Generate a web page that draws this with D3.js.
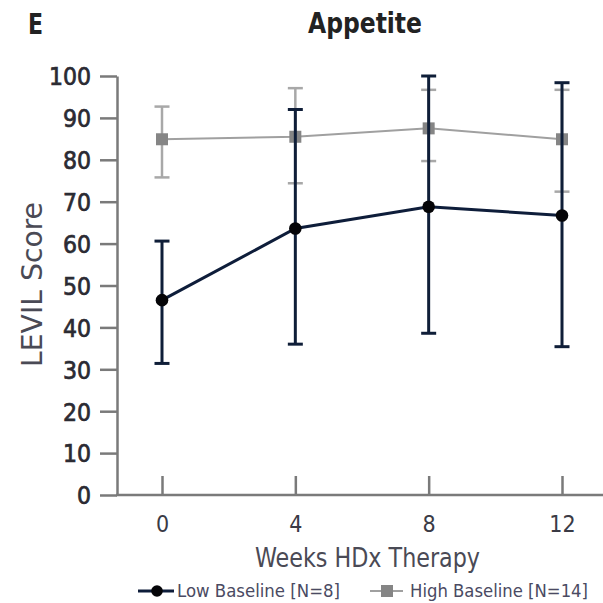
<!DOCTYPE html>
<html><head><meta charset="utf-8">
<script src="https://cdn.jsdelivr.net/npm/d3@7"></script>
<style>body{margin:0;background:#fff}svg{display:block}text{font-family:"DejaVu Sans Condensed","DejaVu Sans",sans-serif}</style>
</head><body><svg id="c" width="603" height="603"></svg>
<script>
const weeks = [0, 4, 8, 12];
const yTicks = [0,10,20,30,40,50,60,70,80,90,100];
const lowMean = [46.5, 63.6, 68.8, 66.7];
const lowUpper = [60.6, 92.0, 100, 98.4];
const lowLower = [31.4, 36.0, 38.6, 35.4];
const highMean = [84.9, 85.5, 87.5, 84.9];
const highUpper = [92.7, 97.1, 96.7, 96.7];
const highLower = [75.8, 74.4, 79.7, 72.4];
const seriesNames = ["Low Baseline [N=8]", "High Baseline [N=14]"];

const svg = d3.select("#c");
const x = d3.scaleLinear().domain([0, 12]).range([162, 562]);
const y = d3.scaleLinear().domain([0, 100]).range([495, 76]);
const axisColor = "#7a7a7a", textColor = "#2b2b33";

// y axis
const gy = svg.append("g").attr("transform", "translate(117,0)")
  .call(d3.axisLeft(y).tickValues(yTicks).tickSize(17).tickPadding(9).tickSizeOuter(0));
gy.select(".domain").attr("stroke", axisColor).attr("stroke-width", 2.5);
gy.selectAll(".tick line").attr("stroke", axisColor).attr("stroke-width", 2.5);
gy.selectAll(".tick text").attr("fill", textColor).attr("stroke", textColor).attr("stroke-width", 0.7)
  .attr("font-size", 24.5).attr("dy", "0.36em");

// x axis
const gx = svg.append("g").attr("transform", "translate(0,495)")
  .call(d3.axisBottom(x).tickValues(weeks).tickSize(-19).tickPadding(20).tickSizeOuter(0));
gx.select(".domain").attr("d", "M116,0H603").attr("stroke", axisColor).attr("stroke-width", 2.5);
gx.selectAll(".tick line").attr("stroke", axisColor).attr("stroke-width", 2.5);
gx.selectAll(".tick text").attr("fill", "#3a3a45").attr("font-size", 23).attr("dy", "0.72em");

// titles
svg.append("text").attr("x", 28).attr("y", 34).attr("font-size", 29).attr("font-weight", "bold")
  .attr("textLength", 15).attr("lengthAdjust", "spacingAndGlyphs").attr("fill", "#222").text("E");
svg.append("text").attr("x", 308).attr("y", 33).attr("font-size", 28).attr("font-weight", "bold")
  .attr("textLength", 114).attr("lengthAdjust", "spacingAndGlyphs").attr("fill", "#222").text("Appetite");
svg.append("text").attr("x", 255).attr("y", 567).attr("font-size", 26)
  .attr("textLength", 225).attr("lengthAdjust", "spacingAndGlyphs").attr("fill", "#4a4a55").text("Weeks HDx Therapy");
svg.append("text").attr("transform", "translate(42,367) rotate(-90)").attr("font-size", 28)
  .attr("textLength", 165).attr("lengthAdjust", "spacingAndGlyphs").attr("fill", "#4a4a55").text("LEVIL Score");

function drawSeries(mean, up, lo, lineColor, barColor, lw, bw, marker, markColor) {
  const g = svg.append("g");
  weeks.forEach((w, i) => {
    g.append("line").attr("x1", x(w)).attr("x2", x(w)).attr("y1", y(up[i])).attr("y2", y(lo[i]))
      .attr("stroke", barColor).attr("stroke-width", bw);
    [up[i], lo[i]].forEach(v => g.append("line").attr("x1", x(w) - 7.5).attr("x2", x(w) + 7.5)
      .attr("y1", y(v)).attr("y2", y(v)).attr("stroke", barColor).attr("stroke-width", bw));
  });
  g.append("path").datum(mean.map((m, i) => [weeks[i], m]))
    .attr("d", d3.line().x(d => x(d[0])).y(d => y(d[1])))
    .attr("fill", "none").attr("stroke", lineColor).attr("stroke-width", lw);
  weeks.forEach((w, i) => {
    if (marker === "circle") g.append("circle").attr("cx", x(w)).attr("cy", y(mean[i])).attr("r", 6.3).attr("fill", markColor);
    else g.append("rect").attr("x", x(w) - 6).attr("y", y(mean[i]) - 6).attr("width", 12).attr("height", 12).attr("fill", markColor);
  });
}
drawSeries(highMean, highUpper, highLower, "#a0a0a0", "#a8a8a8", 2, 2.5, "square", "#858585");
drawSeries(lowMean, lowUpper, lowLower, "#0e1d3a", "#0f1e38", 3, 3, "circle", "#050508");

// legend
const lg = svg.append("g");
lg.append("line").attr("x1", 138).attr("x2", 174).attr("y1", 591).attr("y2", 591).attr("stroke", "#0e1d3a").attr("stroke-width", 3);
lg.append("circle").attr("cx", 157).attr("cy", 591).attr("r", 5.8).attr("fill", "#050508");
lg.append("text").attr("x", 177).attr("y", 597).attr("font-size", 17.5)
  .attr("textLength", 163).attr("lengthAdjust", "spacingAndGlyphs").attr("fill", "#4a4a62").text(seriesNames[0]);
lg.append("line").attr("x1", 370).attr("x2", 403).attr("y1", 591).attr("y2", 591).attr("stroke", "#a0a0a0").attr("stroke-width", 2);
lg.append("rect").attr("x", 381).attr("y", 585).attr("width", 12).attr("height", 12).attr("fill", "#858585");
lg.append("text").attr("x", 410).attr("y", 597).attr("font-size", 17.5)
  .attr("textLength", 178).attr("lengthAdjust", "spacingAndGlyphs").attr("fill", "#4a4a62").text(seriesNames[1]);
</script></body></html>
